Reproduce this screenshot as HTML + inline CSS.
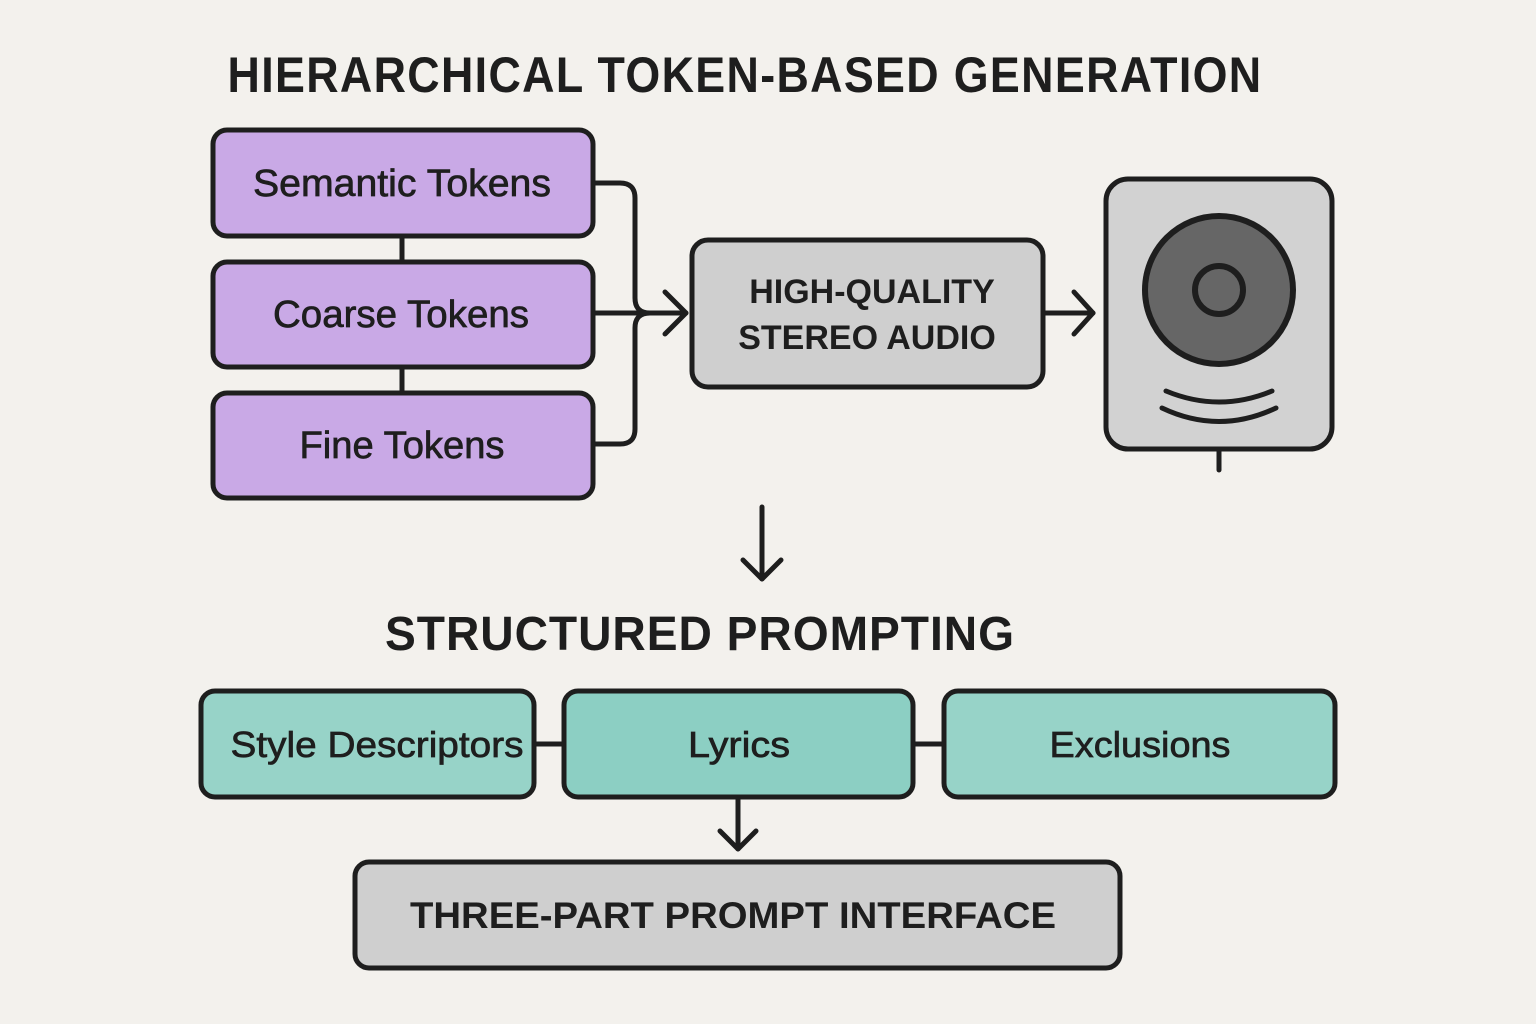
<!DOCTYPE html>
<html><head><meta charset="utf-8"><style>
html,body{margin:0;padding:0;background:#f3f1ed;}
svg{display:block}
text{font-family:"Liberation Sans",sans-serif;fill:#1e1e1e;}
</style></head><body>
<svg width="1536" height="1024" viewBox="0 0 1536 1024" xmlns="http://www.w3.org/2000/svg">
<rect width="1536" height="1024" fill="#f3f1ed"/>
<text x="745" y="92" font-size="50" font-weight="bold" text-anchor="middle" letter-spacing="1.5" textLength="1035" lengthAdjust="spacingAndGlyphs">HIERARCHICAL TOKEN-BASED GENERATION</text>
<g stroke="#1e1e1e" stroke-width="5" fill="none" stroke-linecap="round" stroke-linejoin="round">
<line x1="402" y1="236" x2="402" y2="262"/>
<line x1="402" y1="367" x2="402" y2="393"/>
<path d="M593 183 H620 Q635 183 635 198 V298 Q635 313 650 313"/>
<path d="M593 444 H620 Q635 444 635 429 V328 Q635 313 650 313"/>
<line x1="593" y1="313" x2="686" y2="313"/>
<path d="M665 292 L686 313 L665 334"/>
<line x1="1043" y1="313" x2="1093" y2="313"/>
<path d="M1074 292 L1093 313 L1074 334"/>
<line x1="1219" y1="449" x2="1219" y2="470"/>
<line x1="762" y1="507" x2="762" y2="579"/>
<path d="M743 560 L762 579 L781 560"/>
<line x1="534" y1="744" x2="564" y2="744"/>
<line x1="913" y1="744" x2="944" y2="744"/>
<line x1="738" y1="797" x2="738" y2="849"/>
<path d="M720 831 L738 849 L756 831"/>
</g>
<g stroke="#1e1e1e" stroke-width="5">
<rect x="213" y="130" width="380" height="106" rx="14" fill="#c9a9e6"/>
<rect x="213" y="262" width="380" height="105" rx="14" fill="#c9a9e6"/>
<rect x="213" y="393" width="380" height="105" rx="14" fill="#c9a9e6"/>
<rect x="692" y="240" width="351" height="147" rx="16" fill="#cfcfcf"/>
<rect x="1106" y="179" width="226" height="270" rx="22" fill="#d2d2d2"/>
<circle cx="1219" cy="290" r="74" fill="#666" stroke-width="6"/>
<circle cx="1219" cy="290" r="24" fill="#666" stroke-width="6"/>
<rect x="201" y="691" width="333" height="106" rx="14" fill="#97d3c8"/>
<rect x="564" y="691" width="349" height="106" rx="14" fill="#8ccfc3"/>
<rect x="944" y="691" width="391" height="106" rx="14" fill="#97d3c8"/>
<rect x="355" y="862" width="765" height="106" rx="14" fill="#cfcfcf"/>
</g>
<g stroke="#1e1e1e" stroke-width="5" fill="none" stroke-linecap="round">
<path d="M1166 391 Q1219 413 1272 391"/>
<path d="M1162 408 Q1219 435 1276 408"/>
</g>
<g font-size="38" text-anchor="middle" stroke="#1e1e1e" stroke-width="0.7" lengthAdjust="spacingAndGlyphs">
<text x="402" y="196" textLength="298" lengthAdjust="spacingAndGlyphs">Semantic Tokens</text>
<text x="401" y="327" textLength="256" lengthAdjust="spacingAndGlyphs">Coarse Tokens</text>
<text x="402" y="458" textLength="205" lengthAdjust="spacingAndGlyphs">Fine Tokens</text>
<text x="377" y="757" font-size="36" textLength="293" lengthAdjust="spacingAndGlyphs">Style Descriptors</text>
<text x="739" y="757" font-size="36" textLength="102" lengthAdjust="spacingAndGlyphs">Lyrics</text>
<text x="1140" y="757" font-size="36" textLength="181" lengthAdjust="spacingAndGlyphs">Exclusions</text>
</g>
<g font-size="34" font-weight="bold" text-anchor="middle">
<text x="872" y="303">HIGH-QUALITY</text>
<text x="867" y="349">STEREO AUDIO</text>
<text x="733" y="928" font-size="37" textLength="646" lengthAdjust="spacingAndGlyphs">THREE-PART PROMPT INTERFACE</text>
</g>
<text x="700" y="650" font-size="48" font-weight="bold" text-anchor="middle" letter-spacing="1" textLength="630" lengthAdjust="spacingAndGlyphs">STRUCTURED PROMPTING</text>
</svg>
</body></html>
